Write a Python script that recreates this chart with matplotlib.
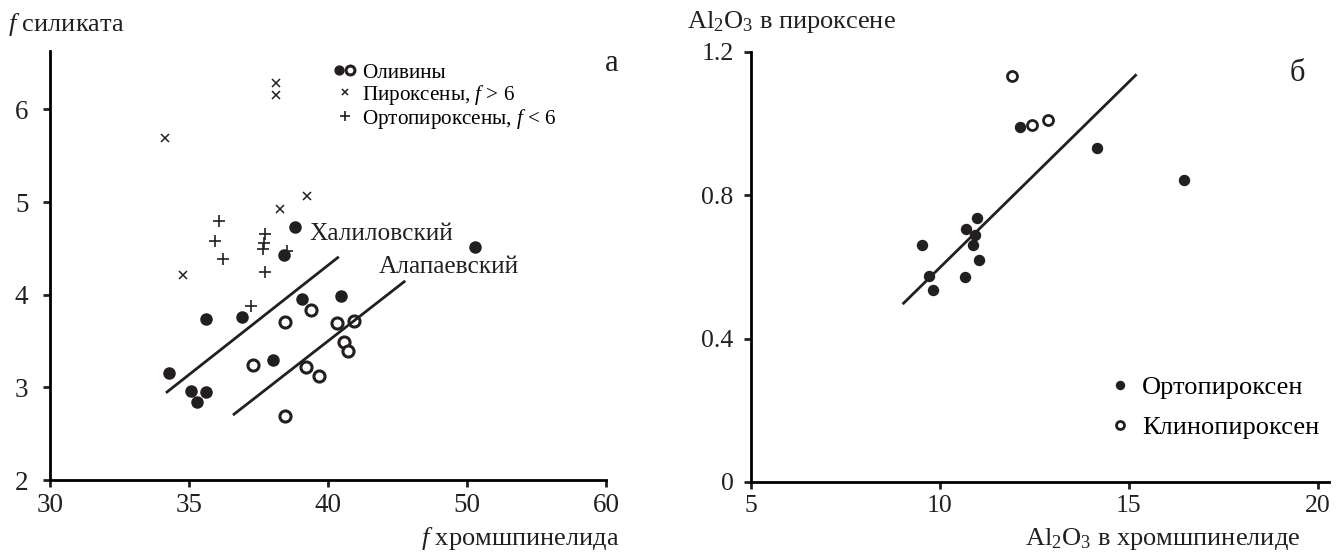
import numpy as np
import matplotlib.pyplot as plt
from matplotlib.legend_handler import HandlerTuple

plt.rcParams['font.family'] = ['Liberation Serif', 'DejaVu Serif']
plt.rcParams['mathtext.fontset'] = 'custom'
plt.rcParams['mathtext.rm'] = 'Liberation Serif'
plt.rcParams['mathtext.it'] = 'Liberation Serif:italic'

# ---------------- panel a data: f chromspinel vs f silicate ----------------
ol_fill_x = [38.83, 38.42, 50.58, 39.08, 40.94, 35.61, 36.89, 38.02, 34.29, 35.08, 35.62, 35.27]
ol_fill_y = [4.73, 4.43, 4.52, 3.95, 3.99, 3.74, 3.76, 3.30, 3.16, 2.96, 2.95, 2.84]
ol_open_x = [39.39, 38.44, 40.64, 41.85, 41.18, 41.45, 37.29, 39.21, 39.67, 38.44]
ol_open_y = [3.84, 3.70, 3.69, 3.72, 3.49, 3.39, 3.24, 3.22, 3.12, 2.69]
px_x = [38.14, 38.14, 34.14, 39.26, 38.26, 34.79]
px_y = [6.28, 6.16, 5.69, 5.06, 4.92, 4.21]
opx_x = [36.08, 35.95, 36.23, 37.74, 37.70, 37.65, 38.53, 37.74, 37.23]
opx_y = [4.80, 4.58, 4.39, 4.66, 4.56, 4.49, 4.47, 4.24, 3.88]
khal_line_x = [34.21, 40.70]
khal_line_y = [2.95, 4.40]
alap_line_x = [36.62, 45.48]
alap_line_y = [2.71, 4.14]
a_xticks = [30, 35, 40, 50, 60]
a_yticks = [2, 3, 4, 5, 6]

# ---------------- panel b data: Al2O3 chromspinel vs Al2O3 pyroxene ----------------
opx_b_x = [12.13, 14.15, 16.45, 10.98, 10.70, 10.93, 10.87, 9.52, 11.04, 9.70, 10.67, 9.81]
opx_b_y = [0.990, 0.933, 0.842, 0.736, 0.707, 0.688, 0.660, 0.662, 0.620, 0.576, 0.571, 0.537]
cpx_b_x = [11.90, 12.44, 12.87]
cpx_b_y = [1.133, 0.995, 1.011]
b_line_x = [9.04, 15.18]
b_line_y = [0.499, 1.135]
b_xticks = [5, 10, 15, 20]
b_yticks = [0, 0.4, 0.8, 1.2]
b_yticklabels = ['0', '0.4', '0.8', '1.2']

W, H = 1343, 554
ink = '#231f20'
fig = plt.figure(figsize=(W / 100, H / 100), dpi=100)


def style_axes(ax, size, ypad):
    for s in ['top', 'right']:
        ax.spines[s].set_visible(False)
    for s in ['left', 'bottom']:
        ax.spines[s].set_linewidth(2.0)
    ax.tick_params(direction='out', length=5, width=2.0, labelsize=size, colors=ink)
    ax.tick_params(axis='x', pad=4.5)
    ax.tick_params(axis='y', pad=ypad)


# ----- panel a -----
ax1 = fig.add_axes([50 / W, 1 - 480 / H, 556 / W, 429 / H])
# the original x axis has equally spaced ticks 30, 35, 40, 50, 60
knots = [30, 35, 40, 50, 60]
pos = [0, 1, 2, 3, 4]
ax1.set_xscale('function', functions=(lambda v: np.interp(v, knots, pos),
                                      lambda v: np.interp(v, pos, knots)))
ax1.set_xlim(30, 60)
ax1.set_ylim(2, 6.63)
ax1.set_xticks(a_xticks)
ax1.set_xticklabels([str(t) for t in a_xticks])
ax1.set_yticks(a_yticks)
style_axes(ax1, 19.5, 10.5)

h_fill, = ax1.plot(ol_fill_x, ol_fill_y, 'o', color=ink, ms=8, ls='none')
h_open, = ax1.plot(ol_open_x, ol_open_y, 'o', mfc='white', mec=ink, mew=2.2, ms=8, ls='none')
h_px, = ax1.plot(px_x, px_y, 'x', color=ink, ms=6, mew=1.1, ls='none')
h_opx, = ax1.plot(opx_x, opx_y, '+', color=ink, ms=9, mew=1.2, ls='none')
ax1.plot(khal_line_x, khal_line_y, color=ink, lw=2)
ax1.plot(alap_line_x, alap_line_y, color=ink, lw=2)
ax1.text(39.33, 4.65, 'Халиловский', fontsize=18.3, va='center', ha='left', color=ink)
ax1.text(43.67, 4.30, 'Алапаевский', fontsize=18.3, va='center', ha='left', color=ink)
ax1.text(1.011, 0.970, 'а', transform=ax1.transAxes, fontsize=22, ha='center', va='center', color=ink)

ax1.legend([(h_fill, h_open), h_px, h_opx],
           ['Оливины', 'Пироксены, $f$ > 6', 'Ортопироксены, $f$ < 6'],
           handler_map={tuple: HandlerTuple(ndivide=None, pad=0.05)},
           loc='upper left', bbox_to_anchor=(0.51, 0.972), frameon=False,
           fontsize=15.2, handlelength=1.05, handletextpad=0.3, labelspacing=0.0,
           borderaxespad=0, borderpad=0, markerscale=0.8)

fig.text(8 / W, 1 - 25 / H, '$f$ силиката', fontsize=19, va='center', ha='left', color=ink)
fig.text(619 / W, 1 - 539 / H, '$f$ хромшпинелида', fontsize=19, va='center', ha='right', color=ink)

# ----- panel b -----
ax2 = fig.add_axes([751 / W, 1 - 482 / H, 578 / W, 430 / H])
ax2.set_xlim(5, 20.3)
ax2.set_ylim(0, 1.2)
ax2.set_xticks(b_xticks)
ax2.set_yticks(b_yticks)
ax2.set_yticklabels(b_yticklabels)
style_axes(ax2, 18.5, 7.5)

h_o, = ax2.plot(opx_b_x, opx_b_y, 'o', color=ink, ms=7.2, ls='none')
h_c, = ax2.plot(cpx_b_x, cpx_b_y, 'o', mfc='white', mec=ink, mew=2, ms=7.2, ls='none')
ax2.plot(b_line_x, b_line_y, color=ink, lw=2)
ax2.text(19.46, 1.14, 'б', fontsize=22, ha='center', va='center', color=ink)

ax2.legend([h_o, h_c], ['Ортопироксен', 'Клинопироксен'],
           loc='lower left', bbox_to_anchor=(0.618, 0.10), frameon=False,
           fontsize=19, handlelength=0.9, handletextpad=0.38, labelspacing=0.62,
           borderaxespad=0, borderpad=0, markerscale=0.8)

fig.text(687 / W, 1 - 22 / H, 'Al$_2$O$_3$ в пироксене', fontsize=19, va='center', ha='left', color=ink)
fig.text(1300 / W, 1 - 539 / H, 'Al$_2$O$_3$ в хромшпинелиде', fontsize=19, va='center', ha='right', color=ink)

fig.savefig('out.png', dpi=100)
